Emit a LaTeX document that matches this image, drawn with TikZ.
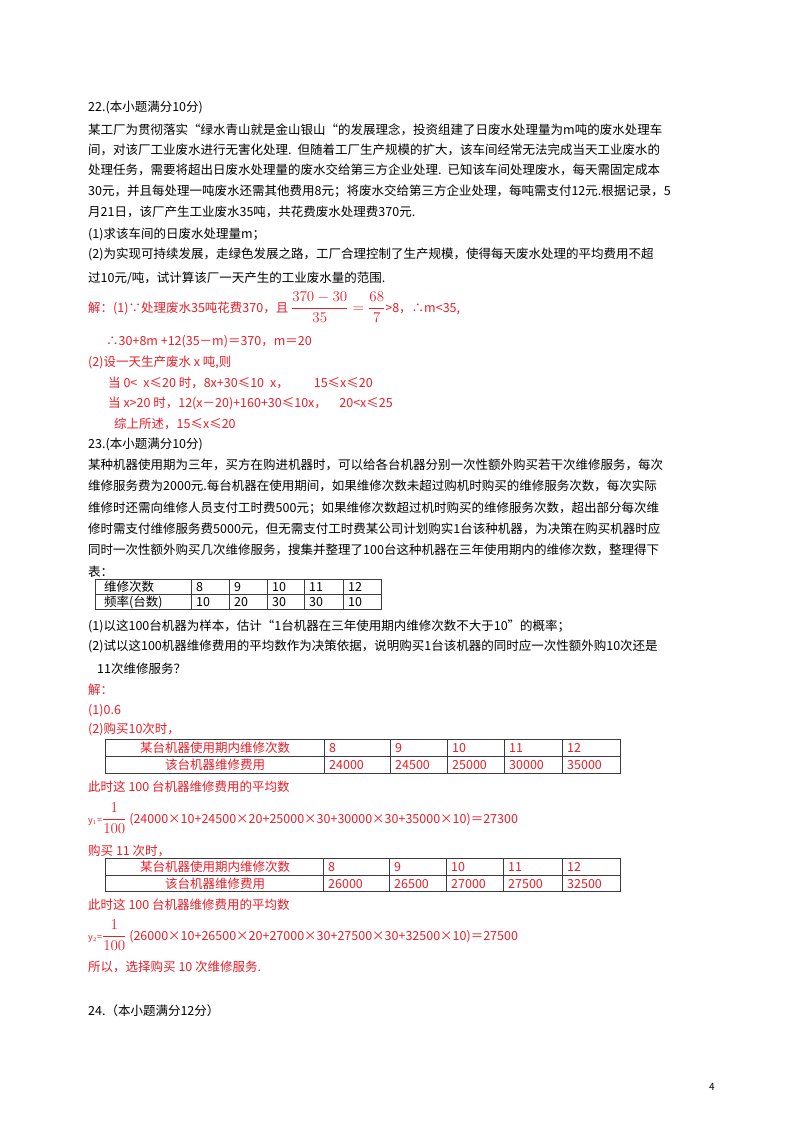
\RequirePackage{fix-cm}
\documentclass[tikz,border=0pt]{standalone}
\usepackage{fontspec}
\setmainfont{Noto Sans CJK SC}
\XeTeXlinebreaklocale "zh"
\XeTeXlinebreakskip=0pt plus 2pt
\definecolor{ans}{RGB}{232,30,40}
\definecolor{rule}{RGB}{60,60,60}
\newcommand{\tl}[3]{\node[anchor=base west,inner sep=0pt] at (#1,#2) {#3};}
\newcommand{\jline}[2]{\node[anchor=base west,inner sep=0pt] at (88,#1) {\makebox[624pt][s]{#2}};}
\newcommand{\frmath}[1]{{\fontsize{15}{17}\selectfont$\displaystyle #1$}}
\tikzset{tab/.style={draw=rule,line width=1pt},cell/.style={inner sep=0pt,anchor=base west}}
\begin{document}
\begin{tikzpicture}[x=1pt,y=-1pt,font=\fontsize{12.5}{14}\selectfont]
\useasboundingbox[fill=white] (0,0) rectangle (800,1132);
% Q22
\tl{88}{111}{22.(本小题满分10分)}
\jline{134}{某工厂为贯彻落实“绿水青山就是金山银山“的发展理念，投资组建了日废水处理量为\textit{m}吨的废水处理车}
\jline{154}{间，对该厂工业废水进行无害化处理.\hspace{6pt}但随着工厂生产规模的扩大，该车间经常无法完成当天工业废水的}
\jline{174}{处理任务，需要将超出日废水处理量的废水交给第三方企业处理.\hspace{6pt}已知该车间处理废水，每天需固定成本}
\jline{195}{30元，并且每处理一吨废水还需其他费用8元；将废水交给第三方企业处理，每吨需支付12元.根据记录，5}
\tl{88}{216}{月21日，该厂产生工业废水35吨，共花费废水处理费370元.}
\tl{88}{238}{(1)求该车间的日废水处理量\textit{m}；}
\jline{258}{(2)为实现可持续发展，走绿色发展之路，工厂合理控制了生产规模，使得每天废水处理的平均费用不超}
\tl{88}{282}{过10元/吨，试计算该厂一天产生的工业废水量的范围.}
\begin{scope}[color=ans]
\tl{88}{312}{解：(1)∵处理废水35吨花费370，且 \frmath{\frac{370-30}{35}=\frac{68}{7}}>8，∴\textit{m}<35,}
\tl{106}{345}{∴30+8\textit{m} +12(35－\textit{m})＝370，\textit{m}＝20}
\tl{88}{366}{(2)设一天生产废水 \textit{x} 吨,则}
\tl{108}{387}{当 0<\hspace{6pt}\textit{x}≤20 时，8\textit{x}+30≤10\hspace{6pt}\textit{x}，\qquad 15≤\textit{x}≤20}
\tl{108}{407}{当 \textit{x}>20 时，12(\textit{x}－20)+160+30≤10\textit{x}，\quad 20<\textit{x}≤25}
\tl{114}{428}{综上所述，15≤\textit{x}≤20}
\end{scope}
% Q23
\tl{88}{448}{23.(本小题满分10分)}
\jline{469}{某种机器使用期为三年，买方在购进机器时，可以给各台机器分别一次性额外购买若干次维修服务，每次}
\jline{490}{维修服务费为2000元.每台机器在使用期间，如果维修次数未超过购机时购买的维修服务次数，每次实际}
\jline{512}{维修时还需向维修人员支付工时费500元；如果维修次数超过机时购买的维修服务次数，超出部分每次维}
\jline{533}{修时需支付维修服务费5000元，但无需支付工时费某公司计划购实1台该种机器，为决策在购买机器时应}
\jline{554}{同时一次性额外购买几次维修服务，搜集并整理了100台这种机器在三年使用期内的维修次数，整理得下}
\tl{88}{576}{表：}
% table 1
\draw[tab] (95,579) rectangle (381,609);
\draw[tab] (95,594) -- (381,594);
\foreach \c in {191,229,267,304,343} \draw[tab] (\c,579) -- (\c,609);
\tl{104}{591}{维修次数}
\tl{104}{606}{频率(台数)}
\foreach \c/\v/\w in {191/8/10,229/9/20,267/10/30,304/11/30,343/12/10}{
  \node[cell] at (\c+5,591) {\v};
  \node[cell] at (\c+5,606) {\w};}
\tl{88}{630}{(1)以这100台机器为样本，估计“1台机器在三年使用期内维修次数不大于10”的概率；}
\jline{650}{(2)试以这100机器维修费用的平均数作为决策依据，说明购买1台该机器的同时应一次性额外购10次还是}
\tl{97}{673}{11次维修服务？}
\begin{scope}[color=ans]
\tl{88}{694}{解：}
\tl{88}{714}{(1)0.6}
\tl{88}{733}{(2)购买10次时，}
\end{scope}
% table 2
\draw[tab] (105,739) rectangle (620,773);
\draw[tab] (105,756) -- (620,756);
\foreach \c in {324,390,447,504,562} \draw[tab] (\c,739) -- (\c,773);
\begin{scope}[color=ans]
\node[cell,anchor=base] at (215,752) {某台机器使用期内维修次数};
\node[cell,anchor=base] at (215,769) {该台机器维修费用};
\foreach \c/\v/\w in {324/8/24000,390/9/24500,447/10/25000,504/11/30000,562/12/35000}{
  \node[cell] at (\c+5,752) {\v};
  \node[cell] at (\c+5,769) {\w};}
\tl{88}{791}{此时这 100 台机器维修费用的平均数}
\tl{88}{823}{{\small y$_1$=}\frmath{\frac{1}{100}} (24000×10+24500×20+25000×30+30000×30+35000×10)＝27300}
\tl{88}{855}{购买 11 次时，}
\end{scope}
% table 3
\draw[tab] (105,858) rectangle (620,891);
\draw[tab] (105,875) -- (620,875);
\foreach \c in {323,389,446,503,562} \draw[tab] (\c,858) -- (\c,891);
\begin{scope}[color=ans]
\node[cell,anchor=base] at (215,871) {某台机器使用期内维修次数};
\node[cell,anchor=base] at (215,888) {该台机器维修费用};
\foreach \c/\v/\w in {323/8/26000,389/9/26500,446/10/27000,503/11/27500,562/12/32500}{
  \node[cell] at (\c+5,871) {\v};
  \node[cell] at (\c+5,888) {\w};}
\tl{88}{909}{此时这 100 台机器维修费用的平均数}
\tl{88}{940}{{\small y$_2$=}\frmath{\frac{1}{100}} (26000×10+26500×20+27000×30+27500×30+32500×10)＝27500}
\tl{88}{971}{所以，选择购买 10 次维修服务.}
\end{scope}
\tl{88}{1015}{24.（本小题满分12分）}
\node[inner sep=0pt,font=\fontsize{10}{12}\selectfont] at (712,1087) {4};
\end{tikzpicture}
\end{document}
